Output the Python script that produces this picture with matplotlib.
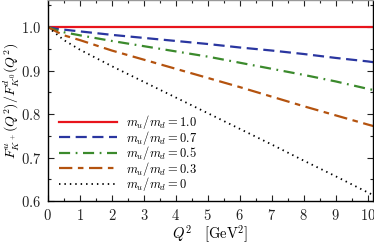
import matplotlib
matplotlib.use("Agg")
import matplotlib.pyplot as plt
from matplotlib.ticker import MultipleLocator, FuncFormatter
import numpy as np

plt.rcParams['mathtext.fontset'] = 'cm'
plt.rcParams['font.family'] = 'DejaVu Serif'

# Q^2 grid and ratio values
q2 = [0, 0.25, 0.5, 1, 2, 3, 4, 5, 6, 7, 8, 9, 10, 10.2]
r10 = [1.0, 1.0, 1.0, 1.0, 1.0, 1.0, 1.0, 1.0, 1.0, 1.0, 1.0, 1.0, 1.0, 1.0]
r07 = [1.0, 0.996, 0.994, 0.990, 0.982, 0.975, 0.968, 0.961, 0.953, 0.946, 0.938, 0.929, 0.921, 0.919]
r05 = [1.0, 0.993, 0.988, 0.981, 0.968, 0.956, 0.944, 0.932, 0.918, 0.904, 0.890, 0.875, 0.858, 0.855]
r03 = [1.0, 0.990, 0.981, 0.970, 0.946, 0.925, 0.904, 0.883, 0.862, 0.840, 0.818, 0.797, 0.776, 0.772]
r00 = [1.0, 0.985, 0.970, 0.948, 0.910, 0.874, 0.838, 0.802, 0.766, 0.730, 0.693, 0.657, 0.620, 0.613]

labels = [r'$m_u/m_d = 1.0$', r'$m_u/m_d = 0.7$', r'$m_u/m_d = 0.5$',
          r'$m_u/m_d = 0.3$', r'$m_u/m_d = 0$']

fig = plt.figure(figsize=(3.74, 2.42), dpi=100)
ax = fig.add_axes([0.128, 0.169, 0.868, 0.829])

ax.plot(q2, r10, color='#e8141c', lw=1.6, ls='-', label=labels[0])
ax.plot(q2, r07, color='#2a36a0', lw=1.6, ls=(0, (5, 2.5)), label=labels[1])
ax.plot(q2, r05, color='#3b8a2c', lw=1.6, ls=(0, (5, 2.5, 0.8, 2.5)), label=labels[2])
ax.plot(q2, r03, color='#b4530f', lw=1.6, ls=(0, (6, 2.5, 2.5, 2.5)), label=labels[3])
ax.plot(q2, r00, color='black', lw=1.3, ls=(0, (0.8, 2.2)), label=labels[4])

ax.set_xlim(0, 10.15)
ax.set_ylim(0.6, 1.061)
ax.xaxis.set_major_locator(MultipleLocator(1))
ax.xaxis.set_minor_locator(MultipleLocator(0.5))
ax.yaxis.set_major_locator(MultipleLocator(0.1))
ax.yaxis.set_minor_locator(MultipleLocator(0.05))
ax.xaxis.set_major_formatter(FuncFormatter(lambda v, p: r'$%d$' % round(v)))
ax.yaxis.set_major_formatter(FuncFormatter(lambda v, p: r'$%.1f$' % v))
ax.tick_params(which='both', direction='in', top=True, right=True, labelsize=10.5, colors='#222222')
ax.tick_params(which='major', length=4.5, width=0.8, pad=5)
ax.tick_params(which='minor', length=2.5, width=0.8)
for s in ax.spines.values():
    s.set_linewidth(1.0)
ax.spines['top'].set_color('#999999')

ax.set_xlabel(r'$Q^2\ \ \ [\mathrm{GeV}^2]$', fontsize=10.5, labelpad=0)
ax.set_ylabel(r'$F^u_{K^+}(Q^2)/F^d_{K^0}(Q^2)$', fontsize=10, labelpad=0)

ax.legend(loc='lower left', bbox_to_anchor=(0.02, 0.015), frameon=False, fontsize=9,
          handlelength=4.6, handletextpad=0.72, labelspacing=-0.2, borderaxespad=0.0)

fig.savefig('out.png', dpi=100)
